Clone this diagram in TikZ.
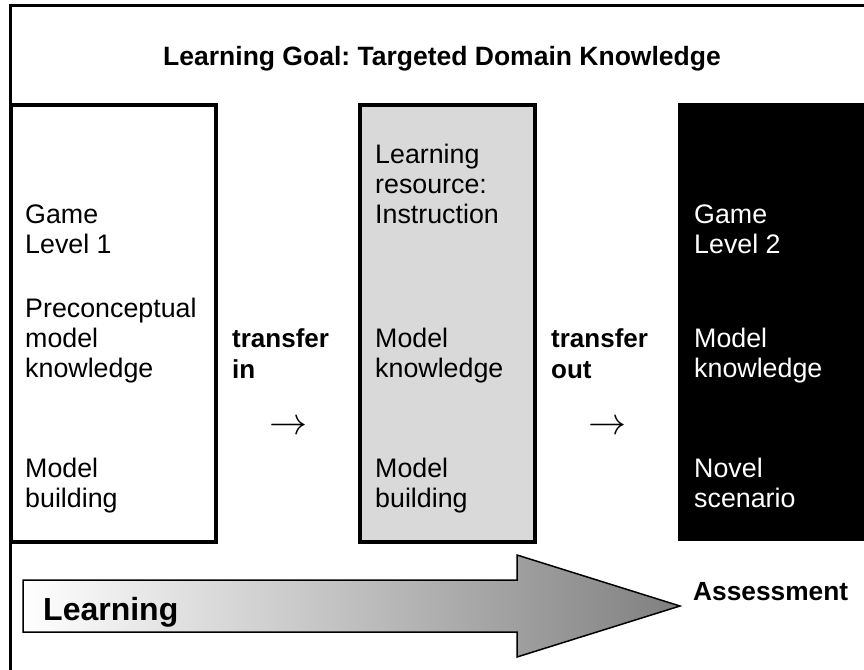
\RequirePackage{fix-cm}
\documentclass[tikz,border=0pt]{standalone}
\usepackage{fontspec}
\setmainfont{Liberation Sans}
\frenchspacing
\begin{document}
\begin{tikzpicture}[x=1pt,y=-1pt,
  txt/.style={anchor=base west,inner sep=0pt,align=left,font=\fontsize{26.8}{30}\selectfont},
  btxt/.style={txt,font=\fontsize{26}{31}\selectfont\bfseries},
  frameline/.style={line width=3pt},
  boxline/.style={line width=4pt},
  arr/.style={anchor=base,inner sep=0pt,font=\fontsize{38}{38}\selectfont}]
\useasboundingbox (0,0) rectangle (864,669);
\definecolor{boxgray}{HTML}{D9D9D9}
% outer frame
\draw[frameline] (10,680) -- (10,5.5) -- (880,5.5);
% title
\node[anchor=base,inner sep=0pt,font=\fontsize{26.5}{30}\selectfont\bfseries] (title) at (442,66) {Learning Goal: Targeted Domain Knowledge};
% boxes
\draw[boxline,fill=white] (11,105) rectangle (215.5,542);
\draw[boxline,fill=boxgray] (360,105) rectangle (535,542);
\fill[black] (678,103) rectangle (870,541);
% box 1 text (base anchor = last line)
\node[txt] (g1) at (25,253) {Game\\Level 1};
\node[txt] (p1) at (25,377) {Preconceptual\\model\\knowledge};
\node[txt] (m1) at (25,507) {Model\\building};
% transfer in
\node[btxt] (tin) at (232,378) {transfer\\in};
\node[arr] (a1) at (288,434.5) {$\rightarrow$};
% gray box text
\node[txt] (lr) at (375,223) {Learning\\resource:\\Instruction};
\node[txt] (mk2) at (375,377) {Model\\knowledge};
\node[txt] (mb2) at (375,507) {Model\\building};
% transfer out
\node[btxt] (tout) at (551,378) {transfer\\out};
\node[arr] (a2) at (607,434.5) {$\rightarrow$};
% black box text
\node[txt,text=white] (g2) at (694,253) {Game\\Level 2};
\node[txt,text=white] (mk3) at (694,377) {Model\\knowledge};
\node[txt,text=white] (ns) at (694,507) {Novel\\scenario};
% big arrow
\shade[draw=black,line width=1.5pt,line join=miter,left color=white,right color=black!50]
  (23,580) -- (517,580) -- (517,555) -- (680,606) -- (517,657) -- (517,632) -- (23,632) -- cycle;
\node[anchor=base west,inner sep=0pt,font=\fontsize{32}{36}\selectfont\bfseries] (learn) at (43,620) {Learning};
\node[anchor=base west,inner sep=0pt,font=\fontsize{26.3}{30}\selectfont\bfseries] (assess) at (693,600) {Assessment};
\end{tikzpicture}
\end{document}
